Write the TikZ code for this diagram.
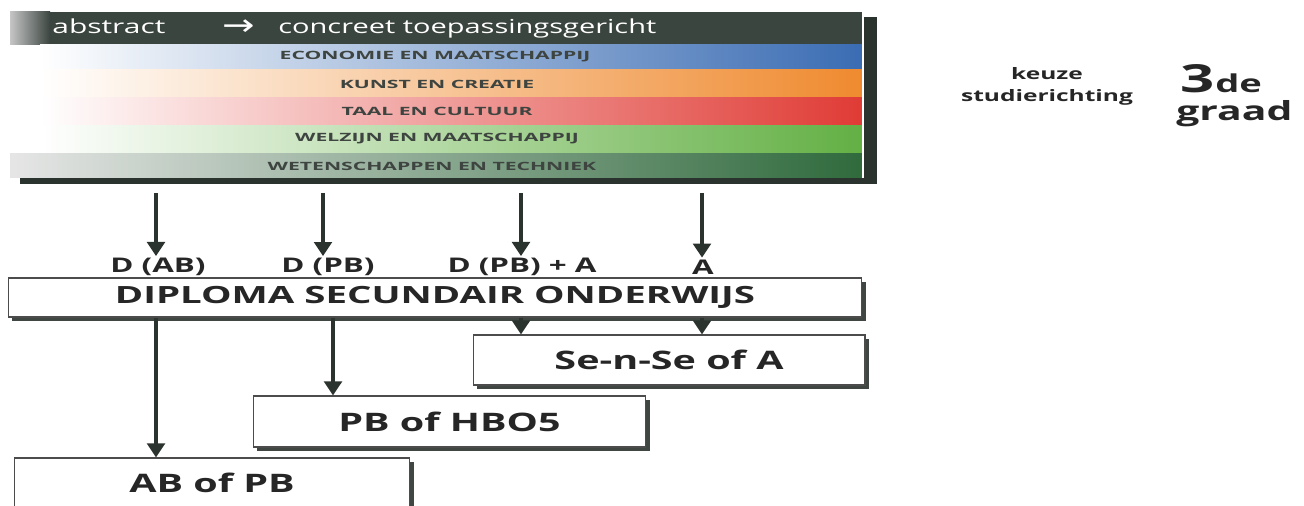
\documentclass[tikz,border=0pt]{standalone}
\usepackage{fontspec}
\setmainfont{Open Sans}
\newfontfamily\arrowfont{DejaVu Sans}
\usetikzlibrary{calc,arrows.meta,positioning,shadows}

\definecolor{headgray}{HTML}{3B4540}
\definecolor{arrowgray}{HTML}{2B332E}
\definecolor{ecoblue}{HTML}{3A6CB3}
\definecolor{kunstorange}{HTML}{EF8A2F}
\definecolor{taalred}{HTML}{E03B35}
\definecolor{welzijngreen}{HTML}{63B044}
\definecolor{wetengreen}{HTML}{2F6A3C}
\definecolor{labelgray}{HTML}{3E4440}

\newcommand{\wide}[2][1.55]{\scalebox{#1}[1]{#2}}

\begin{document}
\begin{tikzpicture}[x=0.02cm, y=-0.02cm,
    box/.style={draw=black!70, line width=0.6pt, fill=white, inner sep=0pt,
      drop shadow={shadow xshift=2.5pt, shadow yshift=-2.5pt, fill=arrowgray, opacity=0.9},
      font=\fontsize{14.5}{16}\selectfont\bfseries, text=black!85},
    lbl/.style={inner sep=1pt, font=\fontsize{11.5}{13}\selectfont\bfseries, text=black!85},
    band/.style={inner sep=0pt, text=labelgray, font=\fontsize{6.5}{7}\selectfont\bfseries},
    arr/.style={arrowgray, line width=2.6pt, -{Triangle[width=10pt,length=8pt]}}]

\useasboundingbox (0,0) rectangle (1304,506);

% banner with the five domains
\fill[arrowgray] (20,17) rectangle (877,184);
\fill[headgray] (10,12) rectangle (863,45);
\shade[left color=gray!45, right color=headgray] (10,12) rectangle (50,45);
\fill[white] (10,45) rectangle (40,154);
\shade[left color=white, right color=ecoblue] (40,45) rectangle (863,70);
\shade[left color=white, right color=kunstorange] (40,70) rectangle (863,98);
\shade[left color=white, right color=taalred] (40,98) rectangle (863,126);
\shade[left color=white, right color=welzijngreen] (40,126) rectangle (863,154);
\shade[left color=gray!20, right color=wetengreen] (10,154) rectangle (863,178);
\draw[white, line width=0.8pt] (863,12) -- (863,178);

\node[anchor=base west, inner sep=0pt, text=white, font=\fontsize{11}{12}\selectfont] (abs) at (52,34) {\wide{abstract}};
\node[text=white, inner sep=0pt, font=\arrowfont\fontsize{17}{18}\selectfont] (pijl) at (239,28) {\scalebox{1.3}[1]{→}};
\node[anchor=base west, inner sep=0pt, text=white, font=\fontsize{11}{12}\selectfont] (conc) at (278,34) {\wide[1.5]{concreet toepassingsgericht}};

\node[band] (eco) at (435,57) {\wide[1.85]{ECONOMIE EN MAATSCHAPPIJ}};
\node[band] (kunst) at (437,84) {\wide[1.85]{KUNST EN CREATIE}};
\node[band] (taal) at (437,111) {\wide[1.85]{TAAL EN CULTUUR}};
\node[band] (welzijn) at (437,139) {\wide[1.85]{WELZIJN EN MAATSCHAPPIJ}};
\node[band] (weten) at (432,166) {\wide[1.85]{WETENSCHAPPEN EN TECHNIEK}};

% grade on the right
\node[align=center, font=\fontsize{9}{12.5}\selectfont\bfseries, text=black!85] (keuze) at (1047,86) {\wide{keuze}\\\wide{studierichting}};
\node[anchor=base west, inner sep=0pt, font=\fontsize{22}{24}\selectfont\bfseries, text=black!85] (drie) at (1180,93) {\wide{3}};
\node[anchor=base west, inner sep=0pt, font=\fontsize{14}{16}\selectfont\bfseries, text=black!85] (de) at (drie.base east) {\wide{de}};
\node[anchor=base west, inner sep=0pt, font=\fontsize{15}{17}\selectfont\bfseries, text=black!85] (graad) at (1176,121) {\wide{graad}};

% diploma and what follows
\node[box, minimum width=17.08cm, minimum height=0.78cm, font=\fontsize{13.5}{15}\selectfont\bfseries] (diploma) at (435,297.5) {\wide[1.62]{DIPLOMA SECUNDAIR ONDERWIJS}};
\node[box, minimum width=7.84cm, minimum height=1cm] (sense) at (669,360) {\wide{Se-n-Se of A}};
\node[box, minimum width=7.86cm, minimum height=1.02cm] (pbhbo) at (449.5,421.5) {\wide{PB of HBO5}};
\node[box, minimum width=7.92cm, minimum height=1cm] (abpb) at (212,483) {\wide{AB of PB}};

\node[lbl] (dab) at (158,267) {\wide{D (AB)}};
\node[lbl] (dpb) at (328,267) {\wide{D (PB)}};
\node[lbl] (dpba) at (522,267) {\wide{D (PB) + A}};
\node[lbl] (da) at (703,267) {\wide{A}};

\coordinate (t1) at (156,193);
\coordinate (t2) at (323,193);
\coordinate (t3) at (521,193);
\coordinate (t4) at (702,193);
\coordinate (b2) at (333,300);

\draw[arr] (t1) -- (t1 |- dab.north);
\draw[arr] (t2) -- (t2 |- dpb.north);
\draw[arr] (t3) -- (t3 |- dpba.north);
\draw[arr] (t4) -- (t4 |- da.north);

\draw[arr] (t1 |- diploma.south) -- (t1 |- abpb.north);
\draw[arr] (b2 |- diploma.south) -- (b2 |- pbhbo.north);
\draw[arr] (t3 |- diploma.south) -- (t3 |- sense.north);
\draw[arr] (t4 |- diploma.south) -- (t4 |- sense.north);
\end{tikzpicture}
\end{document}
